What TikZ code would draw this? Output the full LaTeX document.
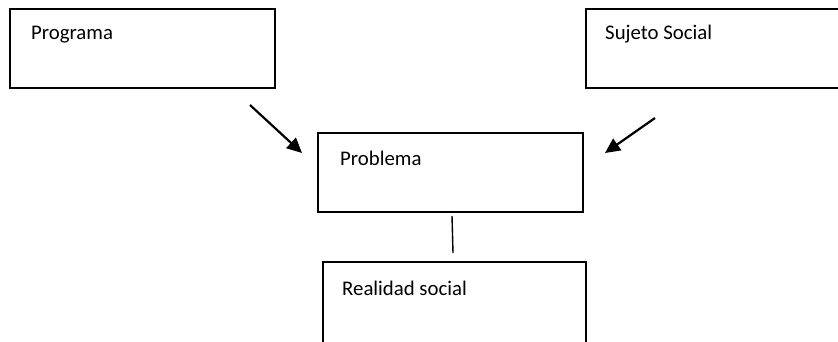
\documentclass[tikz,border=0pt]{standalone}
\usepackage{fontspec}
\setmainfont{Carlito}
\usetikzlibrary{arrows.meta}
\begin{document}
\begin{tikzpicture}[x=1pt,y=1pt,
  boxstyle/.style={draw=black, line width=1.4pt, fill=none},
  lbl/.style={anchor=base west, inner sep=0pt, font=\fontsize{20.8}{25}\selectfont},
  arr/.style={line width=2.2pt, -{Triangle[length=15pt,width=14pt]}},
  link/.style={line width=1.4pt}]
\useasboundingbox (0,0) rectangle (838,-341);
\clip (0,0) rectangle (838,-341);
% boxes
\draw[boxstyle] (10,-9) rectangle (275,-88);
\node[lbl] (programa) at (31,-39) {Programa};
\draw[boxstyle] (850,-9) -- (586,-9) -- (586,-88) -- (850,-88);
\node[lbl] (sujeto) at (605,-39) {Sujeto Social};
\draw[boxstyle] (318,-133) rectangle (583,-212);
\node[lbl] (problema) at (340,-165) {Problema};
\draw[boxstyle] (323,-360) -- (323,-262) -- (586,-262) -- (586,-360);
\node[lbl] (realidad) at (342,-295) {Realidad social};
% connectors
\coordinate (a1s) at (250,-105);
\coordinate (a1e) at (302,-153);
\coordinate (a2s) at (655,-118);
\coordinate (a2e) at (605,-153);
\coordinate (l1s) at (452,-216);
\coordinate (l1e) at (453,-253);
\draw[arr] (a1s) -- (a1e);
\draw[arr] (a2s) -- (a2e);
\draw[link] (l1s) -- (l1e);
\end{tikzpicture}
\end{document}
